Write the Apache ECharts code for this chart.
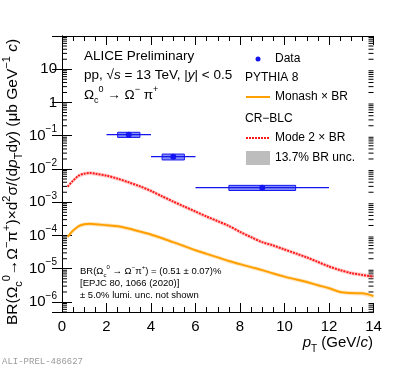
<!DOCTYPE html>
<html>
<head>
<meta charset="utf-8">
<script src="https://cdn.jsdelivr.net/npm/echarts@6/dist/echarts.min.js"></script>
<style>
  html, body { margin: 0; padding: 0; background: #fff; }
  #main { width: 415px; height: 367px; }
</style>
</head>
<body>
<div id="main"></div>
<script>
// ALICE data points, Omega_c0 -> Omega- pi+
const dataPt = [3, 5, 9];
const dataBinLo = [2, 4, 6];
const dataBinHi = [4, 6, 12];
const dataVal = [0.108, 0.0234, 0.00274];
const dataStat = [0.006, 0.0015, 0.0002];
const dataSys = [0.019, 0.0047, 0.00048];
const sysHalfWidth = [0.5, 0.5, 1.5];

// PYTHIA 8 curves (x BR)
const modelPt = [0.25, 0.5, 0.75, 1, 1.25, 1.5, 2, 2.5, 3, 3.5, 4, 4.5, 5, 5.5, 6, 6.5, 7,
                 7.5, 8, 8.5, 9, 9.5, 10, 10.5, 11, 11.5, 12, 12.5, 13, 13.5, 14];
const monash = [9.1e-5, 1.41e-4, 1.9e-4, 2.19e-4, 2.24e-4, 2.19e-4, 2.04e-4, 1.9e-4, 1.62e-4,
                1.32e-4, 1.07e-4, 8.3e-5, 6.3e-5, 4.8e-5, 3.6e-5, 2.8e-5, 2.2e-5, 1.7e-5,
                1.38e-5, 1.12e-5, 9.1e-6, 7.2e-6, 5.8e-6, 4.8e-6, 4.0e-6, 3.2e-6, 2.6e-6,
                2.0e-6, 1.86e-6, 1.82e-6, 1.51e-6];
const mode2 = [2.95e-3, 4.47e-3, 6.31e-3, 7.24e-3, 7.59e-3, 7.24e-3, 6.31e-3, 5.13e-3, 3.98e-3,
               3.02e-3, 2.19e-3, 1.51e-3, 1.05e-3, 7.4e-4, 5.25e-4, 3.72e-4, 2.69e-4, 1.95e-4,
               1.29e-4, 8.9e-5, 6.3e-5, 5.0e-5, 3.8e-5, 2.9e-5, 2.2e-5, 1.6e-5, 1.17e-5,
               9.1e-6, 7.4e-6, 6.5e-6, 5.8e-6];
const brUnc = 0.137;

const F = '"Liberation Sans", Arial, sans-serif';
const BLUE = '#1414f0';
const ORANGE = '#ffa000';
const RED = '#ff1a1a';

function richSet(size) {
    return {
        i: { fontFamily: F, fontSize: size, fontStyle: 'italic' },
        sup: { fontFamily: F, fontSize: Math.round(size * 0.68), verticalAlign: 'top' },
        sub: { fontFamily: F, fontSize: Math.round(size * 0.68), verticalAlign: 'bottom' },
        isub: { fontFamily: F, fontSize: Math.round(size * 0.68), verticalAlign: 'bottom', fontStyle: 'italic' }
    };
}

function label(x, y, text, size, opts) {
    opts = opts || {};
    return {
        type: 'text', x: x, y: y, rotation: opts.rotation || 0, z: 100,
        style: {
            text: text, fill: opts.color || '#000',
            fontFamily: opts.family || F, fontSize: size,
            lineHeight: Math.round(size * 1.5),
            rich: richSet(size),
            textAlign: opts.align || 'left', align: opts.align || 'left',
            textVerticalAlign: 'middle', verticalAlign: 'middle'
        }
    };
}

const chart = echarts.init(document.getElementById('main'));

function bandSeries(values, color) {
    return {
        type: 'custom', silent: true, clip: true, z: 1,
        data: modelPt.map((x, i) => [x, values[i]]),
        renderItem: function (params, api) {
            if (params.dataIndex !== 0) return;
            const up = [], lo = [];
            for (let i = 0; i < modelPt.length; i++) {
                up.push(api.coord([modelPt[i], values[i] * (1 + brUnc)]));
                lo.push(api.coord([modelPt[i], values[i] * (1 - brUnc)]));
            }
            return { type: 'polygon', shape: { points: up.concat(lo.reverse()) }, style: { fill: color } };
        }
    };
}

const pointData = dataPt.map((x, i) => [x, dataVal[i], dataBinLo[i], dataBinHi[i],
    x - sysHalfWidth[i], x + sysHalfWidth[i], dataVal[i] - dataSys[i], dataVal[i] + dataSys[i],
    dataVal[i] - dataStat[i], dataVal[i] + dataStat[i]]);

const axisCommon = {
    axisLine: { show: true, lineStyle: { color: '#000', width: 1 } },
    splitLine: { show: false }
};

chart.setOption({
    animation: false,
    grid: { left: 62, right: 41.5, top: 36, bottom: 55 },
    xAxis: [
        Object.assign({
            type: 'value', position: 'bottom', min: 0, max: 14, interval: 2,
            axisTick: { inside: true, length: 9, lineStyle: { color: '#000' } },
            minorTick: { show: true, splitNumber: 4, length: 5, lineStyle: { color: '#000' } },
            axisLabel: { fontFamily: F, fontSize: 15, color: '#000', margin: 7 }
        }, axisCommon),
        Object.assign({
            type: 'value', position: 'top', min: 0, max: 14, interval: 2,
            axisTick: { inside: true, length: 9, lineStyle: { color: '#000' } },
            minorTick: { show: true, splitNumber: 4, length: 5, lineStyle: { color: '#000' } },
            axisLabel: { show: false }
        }, axisCommon)
    ],
    yAxis: [
        Object.assign({
            type: 'log', logBase: 10, min: 5e-7, max: 100, splitNumber: 8, position: 'left',
            axisTick: { inside: true, length: 10, lineStyle: { color: '#000' } },
            axisLabel: {
                fontFamily: F, fontSize: 15, color: '#000', margin: 5,
                showMinLabel: false, showMaxLabel: false, lineHeight: 22,
                rich: { s: { fontFamily: F, fontSize: 10, verticalAlign: 'top', lineHeight: 12 } },
                formatter: function (v) {
                    const e = Math.round(Math.log10(v));
                    if (Math.abs(Math.log10(v) - e) > 0.01) return '';
                    if (e === 1) return '10';
                    if (e === 0) return '1';
                    return '10{s|−' + (-e) + '}';
                }
            }
        }, axisCommon),
        Object.assign({
            type: 'log', logBase: 10, min: 5e-7, max: 100, splitNumber: 8, position: 'right',
            axisTick: { inside: true, length: 10, lineStyle: { color: '#000' } },
            axisLabel: { show: false }
        }, axisCommon)
    ],
    series: [
        bandSeries(mode2, 'rgba(255, 120, 120, 0.35)'),
        bandSeries(monash, 'rgba(255, 190, 90, 0.4)'),
        {
            type: 'line', name: 'Monash', data: modelPt.map((x, i) => [x, monash[i]]),
            showSymbol: false, smooth: 0.3, z: 3,
            lineStyle: { color: ORANGE, width: 2 }
        },
        {
            type: 'line', name: 'Mode 2', data: modelPt.map((x, i) => [x, mode2[i]]),
            showSymbol: false, smooth: 0.3, z: 3,
            lineStyle: { color: RED, width: 2, type: [2, 1] }
        },
        {
            type: 'custom', name: 'Data', z: 5, data: pointData,
            renderItem: function (params, api) {
                const c = api.coord([api.value(0), api.value(1)]);
                const l = api.coord([api.value(2), api.value(1)]);
                const r = api.coord([api.value(3), api.value(1)]);
                const s0 = api.coord([api.value(4), api.value(7)]);
                const s1 = api.coord([api.value(5), api.value(6)]);
                const e0 = api.coord([api.value(0), api.value(9)]);
                const e1 = api.coord([api.value(0), api.value(8)]);
                return {
                    type: 'group', children: [
                        { type: 'rect', shape: { x: s0[0], y: s0[1], width: s1[0] - s0[0], height: s1[1] - s0[1] },
                          style: { fill: 'rgba(30, 50, 235, 0.55)', stroke: BLUE, lineWidth: 1 } },
                        { type: 'line', shape: { x1: l[0], y1: l[1], x2: r[0], y2: r[1] }, style: { stroke: BLUE, lineWidth: 1.2 } },
                        { type: 'line', shape: { x1: e0[0], y1: e0[1], x2: e1[0], y2: e1[1] }, style: { stroke: BLUE, lineWidth: 1.2 } },
                        { type: 'circle', shape: { cx: c[0], cy: c[1], r: 3 }, style: { fill: BLUE } }
                    ]
                };
            }
        }
    ]
});

// log minor ticks and annotations
const g = [];
const xl = chart.convertToPixel({ xAxisIndex: 0 }, 0);
const xr = chart.convertToPixel({ xAxisIndex: 0 }, 14);
for (let k = -7; k <= 1; k++) {
    for (let m = 2; m <= 9; m++) {
        const v = m * Math.pow(10, k);
        if (v < 5e-7 || v > 100) continue;
        const y = chart.convertToPixel({ yAxisIndex: 0 }, v);
        g.push({ type: 'line', shape: { x1: xl, y1: y, x2: xl + 5, y2: y }, style: { stroke: '#000', lineWidth: 1 } });
        g.push({ type: 'line', shape: { x1: xr - 5, y1: y, x2: xr, y2: y }, style: { stroke: '#000', lineWidth: 1 } });
    }
}

g.push(label(84, 56, 'ALICE Preliminary', 13.5));
g.push(label(84, 75, 'pp, √{i|s} = 13 TeV, |{i|y}| < 0.5', 13.5));
g.push(label(84, 95, 'Ω{sub|c}{sup|0} → Ω{sup|−} π{sup|+}', 13.5));

// legend
g.push({ type: 'circle', shape: { cx: 258, cy: 59, r: 2.5 }, style: { fill: BLUE } });
g.push(label(275, 59, 'Data', 12));
g.push(label(245, 78, 'PYTHIA 8', 12));
g.push({ type: 'line', shape: { x1: 246, y1: 97, x2: 270, y2: 97 }, style: { stroke: ORANGE, lineWidth: 2 } });
g.push(label(275, 97, 'Monash × BR', 12));
g.push(label(245, 119, 'CR−BLC', 12));
g.push({ type: 'line', shape: { x1: 246, y1: 138, x2: 270, y2: 138 }, style: { stroke: RED, lineWidth: 2, lineDash: [2, 1] } });
g.push(label(275, 138, 'Mode 2 × BR', 12));
g.push({ type: 'rect', shape: { x: 246, y: 151, width: 24, height: 14 }, style: { fill: '#bdbdbd' } });
g.push(label(275, 158, '13.7% BR unc.', 12));

// bottom notes
g.push(label(80, 271, 'BR(Ω{sub|c}{sup|0} → Ω{sup|−}π{sup|+}) = (0.51 ± 0.07)%', 9.5));
g.push(label(80, 283, '[EPJC 80, 1066 (2020)]', 9.5));
g.push(label(80, 295, '± 5.0% lumi. unc. not shown', 9.5));

// axis titles
g.push(label(373, 343, '{i|p}{sub|T} (GeV/{i|c})', 15, { align: 'right' }));
g.push(label(13, 182, 'BR(Ω{sub|c}{sup|0}→Ω{sup|−}π{sup|+})×d{sup|2}σ/(d{i|p}{sub|T}d{i|y}) (μb GeV{sup|−1} {i|c})', 15.5,
    { align: 'center', rotation: Math.PI / 2 }));

g.push(label(2, 362, 'ALI-PREL-486627', 9, { family: '"Liberation Mono", monospace', color: '#9a9a9a' }));

chart.setOption({ graphic: { elements: g } });
</script>
</body>
</html>
